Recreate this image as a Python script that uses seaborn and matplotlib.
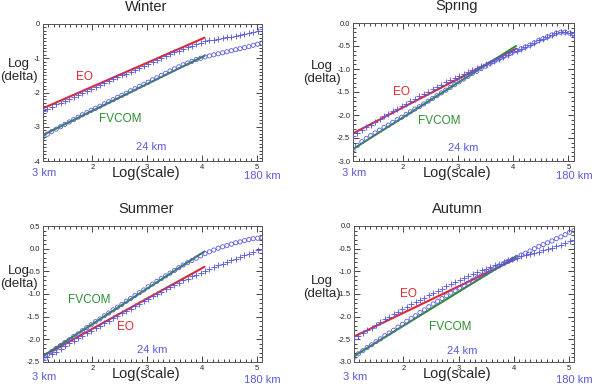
import numpy as np
import pandas as pd
import matplotlib
matplotlib.use("Agg")
import matplotlib.pyplot as plt
from matplotlib.ticker import MultipleLocator, FormatStrFormatter
import seaborn as sns

# -------------------
# Data
scale_x = [1.10, 1.18, 1.26, 1.34, 1.42, 1.50, 1.58, 1.66, 1.74, 1.82,
           1.90, 1.98, 2.06, 2.14, 2.22, 2.30, 2.38, 2.46, 2.54, 2.62,
           2.70, 2.78, 2.86, 2.94, 3.02, 3.10, 3.18, 3.26, 3.34, 3.42,
           3.50, 3.58, 3.66, 3.74, 3.82, 3.90, 3.98, 4.06, 4.14, 4.22,
           4.30, 4.38, 4.46, 4.54, 4.62, 4.70, 4.78, 4.86, 4.94, 5.02, 5.10]

winter_eo = [-2.55, -2.47, -2.41, -2.35, -2.30, -2.24, -2.18, -2.13, -2.07, -2.01,
             -1.96, -1.90, -1.84, -1.79, -1.73, -1.67, -1.62, -1.56, -1.50, -1.45,
             -1.39, -1.33, -1.28, -1.22, -1.16, -1.11, -1.05, -0.99, -0.94, -0.88,
             -0.83, -0.78, -0.73, -0.68, -0.63, -0.59, -0.55, -0.50, -0.48, -0.46,
             -0.44, -0.41, -0.39, -0.37, -0.35, -0.33, -0.30, -0.27, -0.23, -0.19, -0.15]
winter_fv = [-3.30, -3.22, -3.14, -3.07, -3.00, -2.93, -2.86, -2.79, -2.72, -2.65,
             -2.59, -2.52, -2.46, -2.40, -2.33, -2.27, -2.21, -2.14, -2.08, -2.02,
             -1.95, -1.89, -1.82, -1.76, -1.70, -1.63, -1.57, -1.50, -1.44, -1.37,
             -1.31, -1.25, -1.19, -1.14, -1.09, -1.04, -1.00, -0.96, -0.93, -0.90,
             -0.87, -0.84, -0.81, -0.78, -0.75, -0.72, -0.69, -0.66, -0.62, -0.59, -0.56]

spring_eo = [-2.45, -2.39, -2.33, -2.27, -2.21, -2.15, -2.09, -2.03, -1.97, -1.92,
             -1.86, -1.81, -1.76, -1.70, -1.65, -1.59, -1.54, -1.49, -1.44, -1.39,
             -1.34, -1.29, -1.24, -1.20, -1.15, -1.10, -1.06, -1.02, -0.98, -0.94,
             -0.90, -0.86, -0.82, -0.78, -0.73, -0.69, -0.64, -0.60, -0.56, -0.52,
             -0.48, -0.43, -0.38, -0.34, -0.30, -0.26, -0.22, -0.20, -0.20, -0.22, -0.26]
spring_fv = [-2.77, -2.66, -2.58, -2.51, -2.45, -2.39, -2.33, -2.27, -2.22, -2.16,
             -2.10, -2.05, -1.99, -1.93, -1.87, -1.82, -1.76, -1.70, -1.64, -1.58,
             -1.52, -1.46, -1.40, -1.34, -1.28, -1.22, -1.16, -1.10, -1.05, -0.99,
             -0.94, -0.88, -0.83, -0.78, -0.73, -0.69, -0.64, -0.60, -0.56, -0.52,
             -0.48, -0.43, -0.38, -0.34, -0.30, -0.26, -0.22, -0.20, -0.20, -0.22, -0.26]

summer_eo = [-2.46, -2.40, -2.33, -2.27, -2.21, -2.15, -2.09, -2.04, -1.98, -1.93,
             -1.87, -1.81, -1.76, -1.70, -1.65, -1.59, -1.53, -1.48, -1.42, -1.37,
             -1.32, -1.26, -1.21, -1.16, -1.11, -1.05, -1.00, -0.95, -0.90, -0.85,
             -0.80, -0.75, -0.70, -0.66, -0.61, -0.57, -0.53, -0.49, -0.45, -0.41,
             -0.37, -0.34, -0.30, -0.26, -0.23, -0.19, -0.15, -0.11, -0.07, -0.03, 0.00]
summer_fv = [-2.42, -2.34, -2.27, -2.20, -2.14, -2.07, -2.01, -1.94, -1.88, -1.81,
             -1.74, -1.68, -1.61, -1.55, -1.48, -1.42, -1.35, -1.29, -1.23, -1.16,
             -1.10, -1.03, -0.97, -0.91, -0.84, -0.78, -0.72, -0.66, -0.60, -0.54,
             -0.48, -0.42, -0.36, -0.31, -0.26, -0.21, -0.16, -0.11, -0.07, -0.03,
             0.01, 0.04, 0.07, 0.10, 0.13, 0.15, 0.18, 0.20, 0.22, 0.23, 0.24]

autumn_eo = [-2.50, -2.43, -2.36, -2.30, -2.24, -2.18, -2.12, -2.06, -2.01, -1.95,
             -1.89, -1.84, -1.79, -1.73, -1.68, -1.63, -1.58, -1.53, -1.48, -1.43,
             -1.38, -1.33, -1.28, -1.24, -1.19, -1.15, -1.10, -1.06, -1.02, -0.98,
             -0.94, -0.90, -0.86, -0.83, -0.79, -0.76, -0.73, -0.70, -0.67, -0.65,
             -0.62, -0.60, -0.57, -0.54, -0.51, -0.48, -0.44, -0.41, -0.37, -0.34, -0.30]
autumn_fv = [-2.90, -2.82, -2.75, -2.68, -2.62, -2.55, -2.49, -2.42, -2.36, -2.30,
             -2.23, -2.17, -2.10, -2.04, -1.98, -1.91, -1.85, -1.78, -1.72, -1.66,
             -1.60, -1.54, -1.48, -1.43, -1.37, -1.31, -1.26, -1.20, -1.14, -1.09,
             -1.04, -0.98, -0.93, -0.88, -0.83, -0.78, -0.74, -0.69, -0.64, -0.60,
             -0.55, -0.50, -0.45, -0.41, -0.37, -0.33, -0.28, -0.24, -0.19, -0.14, -0.10]

# fitted lines (endpoints)
fit_x = [1.10, 4.05]
winter_eo_fit = [-2.46, -0.40]
winter_fv_fit = [-3.24, -0.93]
spring_eo_fit = [-2.40, -0.56]
spring_fv_fit = [-2.74, -0.50]
summer_eo_fit = [-2.37, -0.40]
summer_fv_fit = [-2.37, -0.06]
autumn_eo_fit = [-2.44, -0.72]
autumn_fv_fit = [-2.87, -0.67]

seasons = ["Winter", "Spring", "Summer", "Autumn"]
y_limits = [(-4, 0), (-3, 0), (-2.5, 0.5), (-3, 0)]
eo_label_xy = [(1.86, -1.54), (1.97, -1.49), (2.60, -1.73), (2.09, -1.50)]
fv_label_xy = [(2.51, -2.78), (2.67, -2.12), (1.95, -1.13), (2.85, -2.23)]
km24_xy = [(3.08, -3.60), (3.10, -2.71), (3.09, -2.23), (3.07, -2.75)]

# -------------------
sns.set_style("ticks")
plt.rcParams['font.family'] = ['Liberation Sans', 'DejaVu Sans']

BLUE = '#5a5ae0'
RED = '#e3262e'
GREEN = '#2f8f2f'

fig = plt.figure(figsize=(5.94, 3.87), dpi=100)
W, H = 594, 387
boxes = [(43, 24, 262, 161), (353, 23, 574, 161),
         (43, 226, 262, 362), (354, 226, 574, 362)]
label_y = [0.66, 0.64, 0.62, 0.55]
label_x = [-0.11, -0.14, -0.11, -0.145]

points = [(winter_eo, winter_fv), (spring_eo, spring_fv),
          (summer_eo, summer_fv), (autumn_eo, autumn_fv)]
fits = [(winter_eo_fit, winter_fv_fit), (spring_eo_fit, spring_fv_fit),
        (summer_eo_fit, summer_fv_fit), (autumn_eo_fit, autumn_fv_fit)]

for i, season in enumerate(seasons):
    l, t, r, b = boxes[i]
    ax = fig.add_axes([l / W, 1 - b / H, (r - l) / W, (b - t) / H])

    df = pd.DataFrame({'x': scale_x, 'eo': points[i][0], 'fv': points[i][1]})
    sns.scatterplot(data=df, x='x', y='fv', ax=ax, marker='o', s=9,
                    facecolor='none', edgecolor=BLUE, linewidth=0.6, zorder=3)
    sns.scatterplot(data=df, x='x', y='eo', ax=ax, marker='+', s=13,
                    color=BLUE, linewidth=0.65, zorder=3)

    fit_df = pd.DataFrame({'x': fit_x, 'eo': fits[i][0], 'fv': fits[i][1]})
    sns.lineplot(data=fit_df, x='x', y='eo', ax=ax, color=RED, lw=1.5, zorder=2)
    sns.lineplot(data=fit_df, x='x', y='fv', ax=ax, color=GREEN, lw=1.5, zorder=2)

    ax.set_xlim(1.1, 5.1)
    ax.set_ylim(*y_limits[i])
    ax.xaxis.set_major_locator(MultipleLocator(1))
    ax.xaxis.set_minor_locator(MultipleLocator(0.1))
    if i == 0:
        ax.yaxis.set_major_locator(MultipleLocator(1))
        ax.yaxis.set_major_formatter(FormatStrFormatter('%d'))
    else:
        ax.yaxis.set_major_locator(MultipleLocator(0.5))
        ax.yaxis.set_major_formatter(FormatStrFormatter('%.1f'))
    ax.yaxis.set_minor_locator(MultipleLocator(0.1))
    ax.tick_params(which='both', direction='in', top=True, right=True,
                   labelsize=5.5, width=0.6, pad=2)
    ax.tick_params(which='major', length=4)
    ax.tick_params(which='minor', length=2)
    for sp in ax.spines.values():
        sp.set_linewidth(0.7)
        sp.set_color('#555555')

    ax.set_xlabel("")
    ax.set_ylabel("")
    ax.text(0.47, -0.09, "Log(scale)", transform=ax.transAxes, ha='center',
            va='center', fontsize=10.5)
    ax.text(label_x[i], label_y[i], "Log\n(delta)", transform=ax.transAxes,
            ha='center', va='center', fontsize=9.5, linespacing=1.1)
    ax.text(0.47, 1.125, season, transform=ax.transAxes, ha='center',
            va='center', fontsize=10.5)

    low = -0.09 if i < 2 else -0.11
    ax.text(-0.05, low, "3 km", transform=ax.transAxes, ha='left',
            va='center', fontsize=8, color=BLUE)
    ax.text(1.085, low - 0.02, "180 km", transform=ax.transAxes, ha='right',
            va='center', fontsize=8, color=BLUE)
    ax.text(*km24_xy[i], "24 km", ha='center', va='center', fontsize=8, color=BLUE)
    ax.text(*eo_label_xy[i], "EO", ha='center', va='center', fontsize=8.5, color=RED)
    ax.text(*fv_label_xy[i], "FVCOM", ha='center', va='center', fontsize=8.5, color=GREEN)

fig.savefig("out.png", dpi=100)
